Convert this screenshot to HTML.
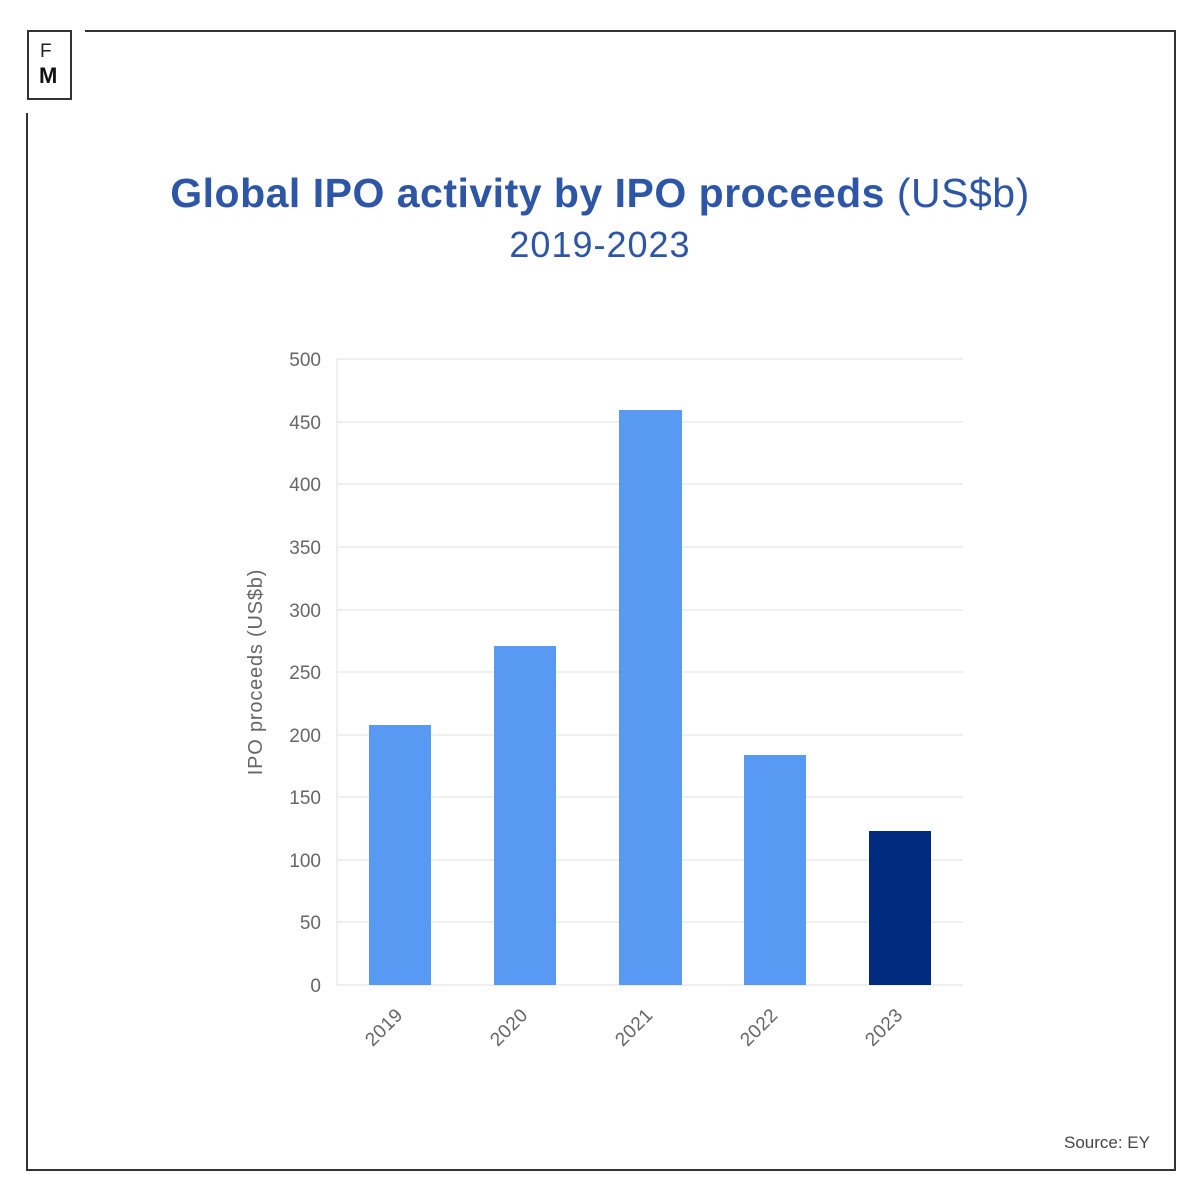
<!DOCTYPE html>
<html><head><meta charset="utf-8"><style>
body{margin:0;width:1200px;height:1200px;background:#fff;position:relative;overflow:hidden;font-family:"Liberation Sans",sans-serif}
.a{position:absolute}
</style></head><body>
<div class="a" style="left:85px;top:30px;width:1091px;height:2px;background:#333"></div>
<div class="a" style="left:1174px;top:30px;width:2px;height:1141px;background:#333"></div>
<div class="a" style="left:26px;top:1169px;width:1150px;height:2px;background:#333"></div>
<div class="a" style="left:26px;top:113px;width:2px;height:1058px;background:#333"></div>
<div class="a" style="left:27px;top:30px;width:41px;height:66px;border:2px solid #333"></div>
<div class="a" style="left:40px;top:41px;font-size:19px;color:#222">F</div>
<div class="a" style="left:39px;top:63px;font-size:22px;font-weight:bold;color:#111">M</div>
<div class="a" style="left:0;top:170px;width:1200px;text-align:center;font-size:41px;color:#2e56a6;letter-spacing:0.5px"><b>Global IPO activity by IPO proceeds</b> (US$b)</div>
<div class="a" style="left:0;top:224px;width:1200px;text-align:center;font-size:36px;color:#2e56a6;letter-spacing:1px">2019-2023</div>
<svg class="a" style="left:0;top:0" width="1200" height="1200">
<g stroke="#ebebeb" stroke-width="1.5">
<line x1="337" x2="963" y1="359" y2="359"/><line x1="337" x2="963" y1="422" y2="422"/><line x1="337" x2="963" y1="484" y2="484"/><line x1="337" x2="963" y1="547" y2="547"/><line x1="337" x2="963" y1="610" y2="610"/><line x1="337" x2="963" y1="672" y2="672"/><line x1="337" x2="963" y1="735" y2="735"/><line x1="337" x2="963" y1="797" y2="797"/><line x1="337" x2="963" y1="860" y2="860"/><line x1="337" x2="963" y1="922" y2="922"/><line x1="337" x2="963" y1="985" y2="985"/><line x1="337" x2="337" y1="359" y2="985"/>
</g>
<g fill="#666" font-size="19" text-anchor="end" font-family="Liberation Sans,sans-serif">
<text x="321" y="366">500</text><text x="321" y="429">450</text><text x="321" y="491">400</text><text x="321" y="554">350</text><text x="321" y="617">300</text><text x="321" y="679">250</text><text x="321" y="742">200</text><text x="321" y="804">150</text><text x="321" y="867">100</text><text x="321" y="929">50</text><text x="321" y="992">0</text>
</g>
<text transform="translate(262,672) rotate(-90)" text-anchor="middle" fill="#666" font-size="20" letter-spacing="0.8" font-family="Liberation Sans,sans-serif">IPO proceeds (US$b)</text>
<g fill="#5899f4">
<rect x="369" y="725" width="62" height="260"/><rect x="494" y="646" width="62" height="339"/><rect x="619" y="410" width="63" height="575"/><rect x="744" y="755" width="62" height="230"/>
</g>
<rect x="869" y="831" width="62" height="154" fill="#002a7d"/>
<g fill="#666" font-size="19" text-anchor="end" font-family="Liberation Sans,sans-serif" letter-spacing="0.5">
<text transform="translate(404,1016) rotate(-45)">2019</text><text transform="translate(529,1016) rotate(-45)">2020</text><text transform="translate(654,1016) rotate(-45)">2021</text><text transform="translate(779,1016) rotate(-45)">2022</text><text transform="translate(904,1016) rotate(-45)">2023</text>
</g>
<text x="1064" y="1148" fill="#444" font-size="17" font-family="Liberation Sans,sans-serif">Source: EY</text>
</svg>
</body></html>
